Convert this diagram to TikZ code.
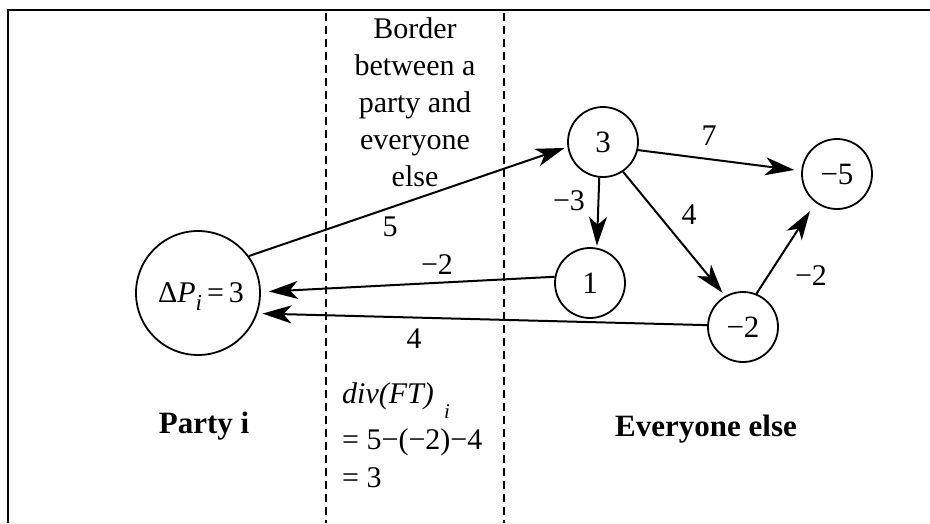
\documentclass[tikz,border=0pt]{standalone}
\usepackage{fontspec}
\setmainfont{Liberation Serif}
\usetikzlibrary{arrows.meta}
\begin{document}
\begin{tikzpicture}[x=1pt,y=-1pt,
  vert/.style={circle,draw,line width=1.8pt,minimum size=70pt,inner sep=0pt,font=\fontsize{31}{31}\selectfont},
  arr/.style={line width=2pt,-{Stealth[length=29pt,width=18pt,inset=8pt]}},
  lbl/.style={inner sep=0pt,font=\fontsize{30}{30}\selectfont},
  boldlbl/.style={inner sep=0pt,anchor=base,font=\bfseries\fontsize{31}{31}\selectfont},
  borderline/.style={line width=1.9pt,dash pattern=on 8pt off 5pt}]
\useasboundingbox (0,0) rectangle (930,523);
\draw[line width=2.4pt] (930,10) -- (8,10) -- (8,523);
\draw[borderline] (326,13) -- (326,523);
\draw[borderline] (504,13) -- (504,523);

\node[align=center,inner sep=0pt,anchor=north,font=\fontsize{30}{37}\selectfont] (bordertext) at (415,17) {Border\\between a\\party and\\everyone\\else};

\node[vert,minimum size=124pt] (big) at (198,293) {};
\node[lbl,anchor=base] (bigtext) at (201,302) {Δ\textit{P}\raisebox{-8pt}{\fontsize{23}{23}\selectfont\textit{i}}\,=\,3};
\node[vert] (n3) at (603,142) {3};
\node[vert] (m5) at (837,174) {−5};
\node[vert] (n1) at (590,283) {1};
\node[vert] (m2) at (743,327) {−2};

\draw[arr,shorten >=3pt] (big.36) -- (n3.188);
\draw[arr,shorten >=8pt] (n1.170) -- (big.1);
\draw[arr,shorten >=5pt] (m2.177) -- (big.-19);
\draw[arr,shorten >=7pt] (n3.-13) -- (m5.175);
\draw[arr,shorten >=2pt] (n3.-96) -- (n1.79);
\draw[arr,shorten >=4pt] (n3.-56) -- (m2.120);
\draw[arr,shorten >=10pt] (m2.68) -- (m5.233);

\node[lbl] (l5) at (390,227) {5};
\node[lbl] (lm2a) at (437,265) {−2};
\node[lbl] (l4a) at (414,339) {4};
\node[lbl] (lm3) at (569,201) {−3};
\node[lbl] (l4b) at (689,215) {4};
\node[lbl] (l7) at (709,136) {7};
\node[lbl] (lm2b) at (811,276) {−2};

\node[boldlbl] (party) at (204,433) {Party i};
\node[boldlbl] (everyone) at (706,436) {Everyone else};

\node[lbl,anchor=base west] (div1) at (342,403) {\textit{div(FT)}};
\node[inner sep=0pt,anchor=base west,font=\fontsize{21}{21}\selectfont] (divsub) at (444,418) {\textit{i}};
\node[lbl,anchor=base west] (div2) at (342,449) {= 5−(−2)−4};
\node[lbl,anchor=base west] (div3) at (342,487) {= 3};
\end{tikzpicture}
\end{document}
